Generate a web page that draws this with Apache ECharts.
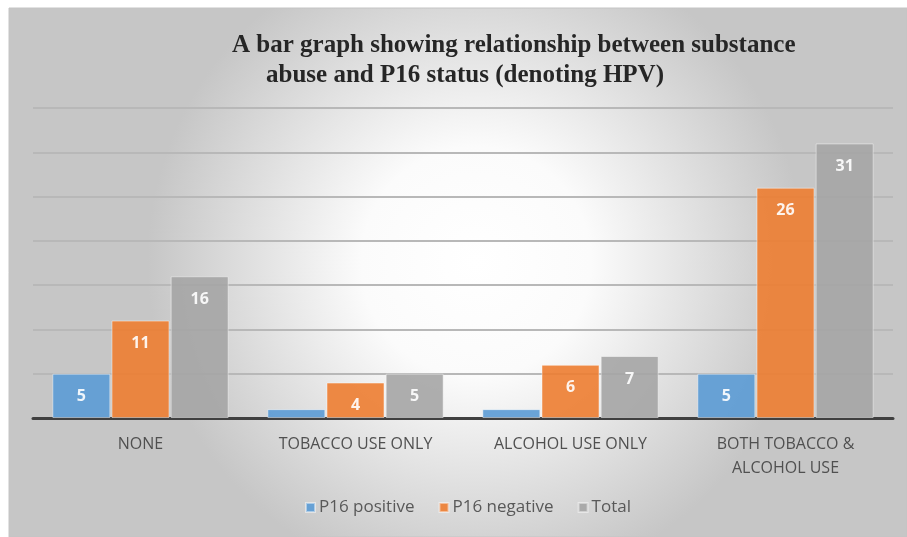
<!DOCTYPE html>
<html>
<head>
<meta charset="utf-8">
<script src="https://cdn.jsdelivr.net/npm/echarts@6/dist/echarts.min.js"></script>
<style>html,body{margin:0;padding:0;background:#fff;}#c{width:907px;height:537px;}</style>
</head>
<body>
<div id="c"></div>
<script>
var categories = ['NONE', 'TOBACCO USE ONLY', 'ALCOHOL USE ONLY', 'BOTH TOBACCO &\nALCOHOL USE'];
var p16Positive = [5, 1, 1, 5];
var p16Negative = [11, 4, 6, 26];
var total = [16, 5, 7, 31];
var seriesNames = ['P16 positive', 'P16 negative', 'Total'];
var titleLine1 = 'A bar graph showing relationship between substance';
var titleLine2 = 'abuse and P16 status (denoting HPV)';

var chart = echarts.init(document.getElementById('c'), null, {renderer: 'canvas'});
var colors = ['#5B9BD5', '#ED7D31', '#A5A5A5'];
function mkSeries(name, data, i) {
  return {
    name: name, type: 'bar', data: data,
    barGap: '2%', barCategoryGap: '18%',
    itemStyle: {color: colors[i], opacity: 0.9, borderColor: 'rgba(255,255,255,0.5)', borderWidth: 1},
    label: {
      show: true, position: 'insideTop', distance: 15,
      color: '#fff', fontFamily: 'Open Sans', fontWeight: 'bold', fontSize: 16,
      formatter: function (p) { return p.value < 2 ? '' : p.value; }
    },
    z: 3
  };
}
chart.setOption({
  animation: false,
  textStyle: {fontFamily: 'Open Sans'},
  graphic: [{
    type: 'rect', z: -10, silent: true,
    shape: {x: 9, y: 8, width: 898, height: 529},
    style: {
      fill: new echarts.graphic.RadialGradient(0.52, 0.48, 0.62, [
        {offset: 0, color: '#ffffff'},
        {offset: 0.35, color: '#fbfbfb'},
        {offset: 1, color: '#c6c6c6'}
      ]),
      stroke: '#c4c4c4', lineWidth: 1
    }
  }],
  title: [
    {text: titleLine1, left: 227, top: 28,
     textStyle: {fontFamily: 'Liberation Serif', fontWeight: 'bold', fontSize: 25, color: '#262626'}},
    {text: titleLine2, left: 261, top: 58,
     textStyle: {fontFamily: 'Liberation Serif', fontWeight: 'bold', fontSize: 25, color: '#262626'}}
  ],
  legend: {
    data: seriesNames, bottom: 16, left: 300,
    itemWidth: 9, itemHeight: 9, itemGap: 24,
    icon: 'rect',
    textStyle: {color: '#595959', fontSize: 17, fontFamily: 'Open Sans', padding: [0, 0, 0, -1]}
  },
  grid: {left: 33, right: 14, top: 108, bottom: 119, containLabel: false},
  xAxis: {
    type: 'category', data: categories,
    axisLine: {lineStyle: {color: '#404040', width: 3}},
    axisTick: {show: false},
    axisLabel: {color: '#505050', fontSize: 16, fontFamily: 'Open Sans', margin: 14, lineHeight: 24, interval: 0}
  },
  yAxis: {
    type: 'value', min: 0, max: 35, interval: 5,
    axisLine: {show: false}, axisTick: {show: false}, axisLabel: {show: false},
    splitLine: {lineStyle: {color: '#b8b8b8', width: 2}}
  },
  series: [
    mkSeries(seriesNames[0], p16Positive, 0),
    mkSeries(seriesNames[1], p16Negative, 1),
    mkSeries(seriesNames[2], total, 2)
  ]
});
</script>
</body>
</html>
